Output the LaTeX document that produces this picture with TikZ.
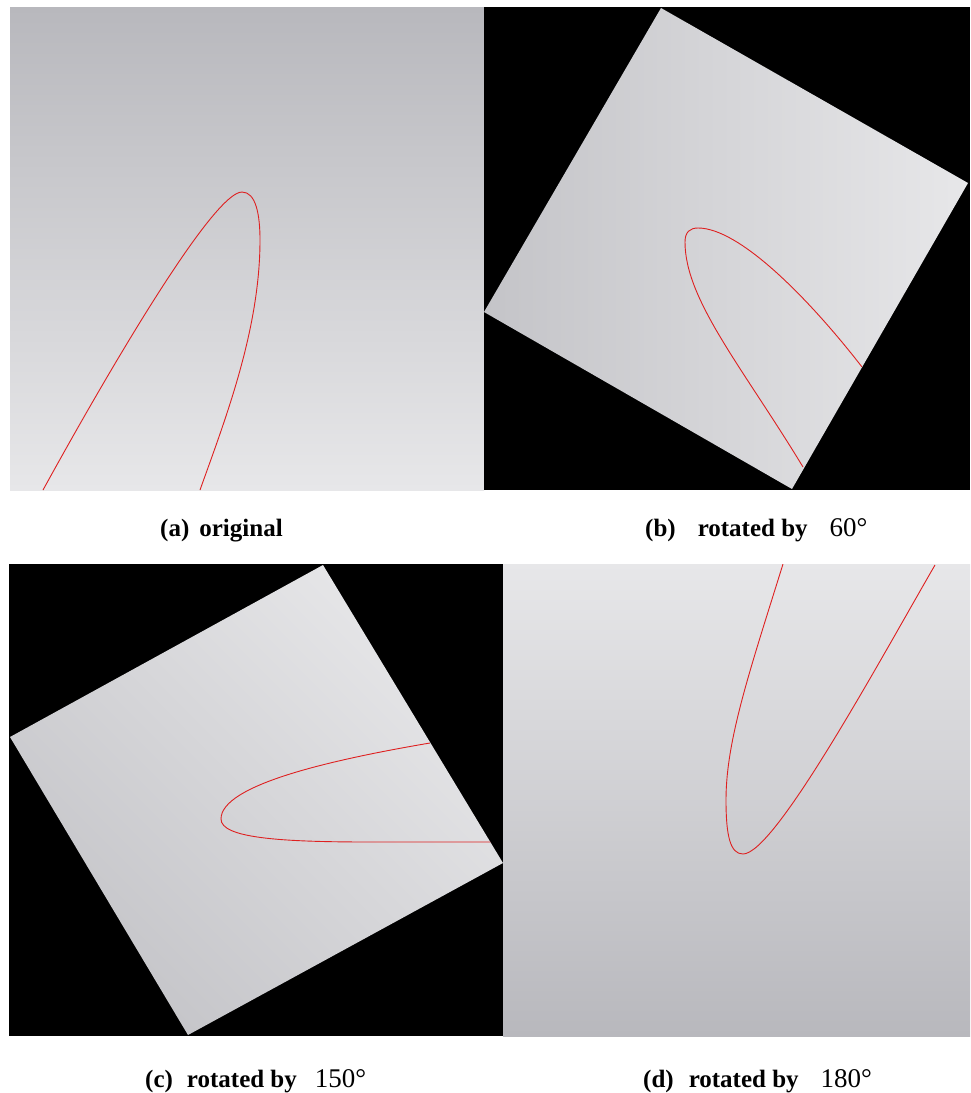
\documentclass[tikz,border=0pt]{standalone}
\usepackage{fontspec}
\setmainfont{Liberation Serif}
\definecolor{gdark}{RGB}{184,184,189}
\definecolor{glight}{RGB}{231,231,233}
\definecolor{gmid}{RGB}{196,196,200}
\definecolor{curvered}{RGB}{222,32,32}
\tikzset{
  curveline/.style={draw=curvered, line width=0.9pt},
  captext/.style={anchor=base west, inner sep=0pt, font=\fontsize{25}{30}\selectfont\bfseries}
}
\newcommand{\degnum}[1]{{\mdseries\fontsize{27}{30}\selectfont #1°}}
\begin{document}
\begin{tikzpicture}[x=1pt,y=-1pt]
\useasboundingbox (0,0) rectangle (971,1093);
\fill[white] (0,0) rectangle (971,1093);

% ---------- (a) original ----------
\shade[top color=gdark, bottom color=glight] (10,7) rectangle (484,490);
\begin{scope}
  \clip (10,7) rectangle (484,490);
  \draw[curveline] (43,490) .. controls (120,350) and (215,192) .. (242,192)
        .. controls (256,192) and (260,215) .. (260,240)
        .. controls (260,330) and (225,420) .. (200,490);
\end{scope}

% ---------- (b) rotated by 60 ----------
\fill[black] (484,7) rectangle (970,490);
\shade[left color=gmid, right color=glight] (661,8) -- (968,183) -- (792,489) -- (484,312) -- cycle;
\begin{scope}
  \clip (661,8) -- (968,183) -- (792,489) -- (484,312) -- cycle;
  \draw[curveline] (803,467) .. controls (743,368) and (685,300) .. (685,242)
        .. controls (685,232) and (690,228) .. (698,228)
        .. controls (740,228) and (810,300) .. (862,367);
\end{scope}

% ---------- (c) rotated by 150 ----------
\fill[black] (9,564) rectangle (503,1036);
\shade[top color=gmid, bottom color=glight, shading angle=135] (323,565) -- (503,863) -- (188,1035) -- (10,737) -- cycle;
\begin{scope}
  \clip (323,565) -- (503,863) -- (188,1035) -- (10,737) -- cycle;
  \draw[curveline] (430,743) .. controls (330,760) and (221,785) .. (221,819)
        .. controls (221,838) and (280,842) .. (370,842) -- (492,842);
\end{scope}

% ---------- (d) rotated by 180 ----------
\shade[top color=glight, bottom color=gdark] (503,564) rectangle (970,1036);
\begin{scope}
  \clip (503,564) rectangle (970,1036);
  \draw[curveline] (783,564) .. controls (750,670) and (726,740) .. (726,800)
        .. controls (726,835) and (730,854) .. (743,854)
        .. controls (775,854) and (880,660) .. (935,565);
\end{scope}

% ---------- captions ----------
\node[captext] (capA) at (160,536) {(a)\hspace{10pt}original};
\node[captext] (capB) at (645,536) {(b)\hspace{22pt}rotated by\hspace{22pt}\degnum{60}};
\node[captext] (capC) at (145,1087) {(c)\hspace{14pt}rotated by\hspace{18pt}\degnum{150}};
\node[captext] (capD) at (643,1087) {(d)\hspace{15pt}rotated by\hspace{22pt}\degnum{180}};
\end{tikzpicture}
\end{document}
